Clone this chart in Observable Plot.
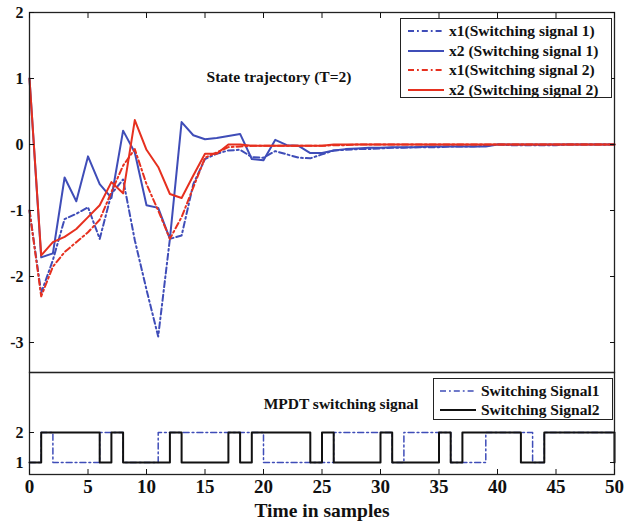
<!DOCTYPE html>
<html><head><meta charset="utf-8">
<script src="https://cdn.jsdelivr.net/npm/d3@7"></script>
<script src="https://cdn.jsdelivr.net/npm/@observablehq/plot@0.6"></script>
<style>
body{margin:0;background:#fff;}
#wrap{position:relative;width:627px;height:527px;font-family:"Liberation Serif","Times New Roman",serif;font-weight:bold;color:#111;}
#wrap svg{display:block;}
#wrap svg text{font-weight:bold;font-family:"Liberation Serif","Times New Roman",serif;}
.lg{position:absolute;border:1.3px solid #222;background:#fff;box-sizing:border-box;}
.row{position:absolute;left:0;height:18px;display:flex;align-items:center;white-space:nowrap;font-size:15.5px;}
.row svg{margin-right:5px;}
.note{position:absolute;font-size:15.5px;white-space:nowrap;transform:translate(-50%,-50%);}
</style></head><body><div id="wrap"></div>
<script>
// ---------- data ----------
const samples = [0,1,2,3,4,5,6,7,8,9,10,11,12,13,14,15,16,17,18,19,20,21,22,23,24,25,26,27,28,29,30,31,32,33,34,35,36,37,38,39,40,41,42,43,44,45,46,47,48,49,50];
const x1Sig1 = [-1.0,-2.25,-1.75,-1.13,-1.05,-0.95,-1.43,-0.75,-0.53,-1.45,-2.2,-2.91,-1.43,-1.38,-0.6,-0.22,-0.14,-0.09,-0.08,-0.19,-0.2,-0.1,-0.15,-0.2,-0.21,-0.15,-0.09,-0.08,-0.07,-0.07,-0.06,-0.05,-0.05,-0.04,-0.04,-0.04,-0.03,-0.03,-0.03,-0.02,0.0,-0.01,-0.01,-0.01,-0.01,-0.01,0.0,0.0,0.0,0.0,0.0];
const x2Sig1 = [1.0,-1.71,-1.65,-0.5,-0.86,-0.18,-0.6,-0.81,0.21,-0.12,-0.92,-0.96,-1.43,0.34,0.14,0.08,0.1,0.13,0.16,-0.22,-0.24,0.07,-0.01,-0.02,-0.13,-0.13,-0.09,-0.07,-0.06,-0.05,-0.05,-0.04,-0.04,-0.04,-0.03,-0.03,-0.03,-0.03,-0.03,-0.03,0.0,0.0,0.0,0.0,0.0,0.0,0.0,0.0,0.0,0.0,0.0];
const x1Sig2 = [-1.0,-2.3,-1.85,-1.63,-1.48,-1.33,-1.14,-0.72,-0.32,-0.07,-0.6,-1.0,-1.43,-1.1,-0.65,-0.2,-0.12,-0.04,-0.03,-0.02,-0.02,-0.02,-0.02,-0.02,-0.02,-0.02,-0.01,-0.01,0.0,0.0,0.0,0.0,0.0,0.0,0.0,0.0,0.0,0.0,0.0,0.0,0.0,0.0,0.0,0.0,0.0,0.0,0.0,0.0,0.0,0.0,0.0];
const x2Sig2 = [1.0,-1.68,-1.48,-1.4,-1.28,-1.1,-0.92,-0.57,-0.74,0.37,-0.08,-0.34,-0.75,-0.81,-0.47,-0.14,-0.14,0.0,0.0,-0.02,-0.02,-0.02,-0.02,-0.02,-0.02,-0.02,0.0,0.0,0.0,0.0,0.0,0.0,0.0,0.0,0.0,0.0,0.0,0.0,0.0,0.0,0.0,0.0,0.0,0.0,0.0,0.0,0.0,0.0,0.0,0.0,0.0];
const switching1 = [1,2,1,1,1,1,2,2,1,1,1,2,2,2,2,2,2,2,2,2,1,1,1,1,1,1,2,2,2,2,2,1,2,2,2,2,1,1,1,2,2,2,2,1,2,2,2,2,2,2,2];
const switching2 = [1,2,2,2,2,2,1,2,1,1,1,1,2,1,1,1,1,2,1,2,2,2,2,2,1,2,1,1,1,1,2,1,1,1,1,2,1,2,2,2,2,2,1,1,2,2,2,2,2,2,1];
const xTicks = [0,5,10,15,20,25,30,35,40,45,50];
const yTicksTop = [-3,-2,-1,0,1,2];
const yTicksBottom = [1,2];
const topLegend = ["x1(Switching signal 1)","x2 (Switching signal 1)","x1(Switching signal 2)","x2 (Switching signal 2)"];
const bottomLegend = ["Switching Signal1","Switching Signal2"];

// ---------- styles ----------
const BLUE = "#3f4db8", RED = "#e6301f", BLACK = "#111";
const DASHDOT = "6,3,1.8,3";
const rows = (vals) => samples.map((t, i) => ({t, v: vals[i]}));
const font = {fontFamily: "Liberation Serif", fontSize: "16px", background: "white", color: "#111", overflow: "visible"};

const topPlot = Plot.plot({
  width: 627, height: 372,
  marginLeft: 29, marginRight: 13, marginTop: 12, marginBottom: 0,
  x: {domain: [0, 50]},
  y: {domain: [-3.4545, 2]},
  style: font,
  marks: [
    Plot.line(rows(x1Sig1), {x: "t", y: "v", stroke: BLUE, strokeWidth: 2, strokeDasharray: DASHDOT}),
    Plot.line(rows(x2Sig1), {x: "t", y: "v", stroke: BLUE, strokeWidth: 2}),
    Plot.line(rows(x1Sig2), {x: "t", y: "v", stroke: RED, strokeWidth: 2, strokeDasharray: DASHDOT}),
    Plot.line(rows(x2Sig2), {x: "t", y: "v", stroke: RED, strokeWidth: 2}),
    Plot.frame({stroke: "#222", strokeWidth: 1.3}),
    Plot.axisY(yTicksTop, {anchor: "left", tickSize: 0, tickPadding: 6, fontSize: 16, label: null, tickFormat: d => String(d)}),
    Plot.axisY(yTicksTop, {anchor: "left", tickSize: -5, tickFormat: () => "", label: null}),
    Plot.axisY(yTicksTop, {anchor: "right", tickSize: -5, tickFormat: () => "", label: null}),
    Plot.axisX(xTicks, {anchor: "top", tickSize: -5, tickFormat: () => "", label: null})
  ]
});

const bottomPlot = Plot.plot({
  width: 627, height: 155,
  marginLeft: 29, marginRight: 13, marginTop: 0, marginBottom: 53,
  x: {domain: [0, 50]},
  y: {domain: [0.6, 4]},
  style: font,
  marks: [
    Plot.line(rows(switching1), {x: "t", y: "v", curve: "step-after", stroke: BLUE, strokeWidth: 1.5, strokeDasharray: DASHDOT}),
    Plot.line(rows(switching2), {x: "t", y: "v", curve: "step-after", stroke: BLACK, strokeWidth: 2}),
    Plot.frame({stroke: "#222", strokeWidth: 1.3}),
    Plot.axisY(yTicksBottom, {anchor: "left", tickSize: 0, tickPadding: 6, fontSize: 16, label: null, tickFormat: d => String(d)}),
    Plot.axisY(yTicksBottom, {anchor: "left", tickSize: -5, tickFormat: () => "", label: null}),
    Plot.axisY(yTicksBottom, {anchor: "right", tickSize: -5, tickFormat: () => "", label: null}),
    Plot.axisX(xTicks, {anchor: "bottom", tickSize: 0, tickPadding: 5, fontSize: 19, tickFormat: d => String(d),
      label: "Time in samples", labelAnchor: "center", labelOffset: 42, labelArrow: "none"}),
    Plot.axisX(xTicks, {anchor: "bottom", tickSize: -5, tickFormat: () => "", label: null})
  ]
});

const wrap = document.getElementById("wrap");
wrap.appendChild(topPlot);
wrap.appendChild(bottomPlot);
bottomPlot.querySelectorAll("[aria-label='x-axis label'] text").forEach(e => e.style.fontSize = "19.5px");

function sample(color, dashed, w) {
  return `<svg width="36" height="6"><line x1="0" x2="36" y1="3" y2="3" stroke="${color}" stroke-width="${w}" ${dashed ? `stroke-dasharray="${DASHDOT}"` : ""}/></svg>`;
}
function legend(box, items, styles, top0, step, padLeft) {
  const d = document.createElement("div");
  d.className = "lg";
  Object.assign(d.style, box);
  items.forEach((txt, i) => {
    const r = document.createElement("div");
    r.className = "row";
    r.style.top = (top0 + i * step) + "px";
    r.style.left = padLeft + "px";
    r.innerHTML = sample(styles[i][0], styles[i][1], styles[i][2]) + `<span>${txt}</span>`;
    d.appendChild(r);
  });
  wrap.appendChild(d);
}
legend({left: "400px", top: "18px", width: "212px", height: "80px"}, topLegend,
  [[BLUE, true, 2], [BLUE, false, 2], [RED, true, 2], [RED, false, 2]], 3, 19.5, 7);
legend({left: "433px", top: "378px", width: "180px", height: "42px"}, bottomLegend,
  [[BLUE, true, 1.5], [BLACK, false, 2]], 3, 18.5, 6);

function note(txt, x, y) {
  const n = document.createElement("div");
  n.className = "note";
  n.style.left = x + "px"; n.style.top = y + "px";
  n.textContent = txt;
  wrap.appendChild(n);
}
note("State trajectory (T=2)", 279, 77);
note("MPDT switching signal", 341, 404);
</script></body></html>
